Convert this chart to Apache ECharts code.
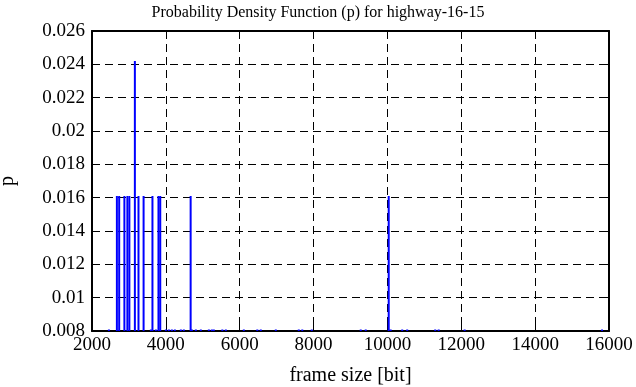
<!DOCTYPE html>
<html>
<head>
<meta charset="utf-8">
<script src="https://cdn.jsdelivr.net/npm/echarts@6/dist/echarts.min.js"></script>
<style>html,body{margin:0;padding:0;background:#fff}#c{width:636px;height:387px}</style>
</head>
<body>
<div id="c"></div>
<script>
// Frame sizes [bit] with non-zero probability density and their p values
const frameSizes = [2674, 2736, 2877, 2958, 3012, 3161, 3259, 3397, 3637, 3800, 3848, 4671, 10035];
const pValues    = [0.0161, 0.0161, 0.0161, 0.0161, 0.0161, 0.0242, 0.0161, 0.0161, 0.0161, 0.0161, 0.0161, 0.0161, 0.0161];
// Frame sizes whose p value is zero (drawn on the lower border)
const zeroSizes = [2458, 3594, 3729, 4000, 4081, 4162, 4244, 4406, 4487, 4704, 4812, 4947, 5164, 5245, 5299, 5529, 5624, 6111, 6476, 6571, 6977, 7599, 7694, 7951, 9277, 9412, 10088, 10400, 10535, 11293, 11388, 12091, 15812];
const zeroValues = zeroSizes.map(() => 0);
// Axes
const xTicks = [2000, 4000, 6000, 8000, 10000, 12000, 14000, 16000];
const yTicks = ['0.008', '0.01', '0.012', '0.014', '0.016', '0.018', '0.02', '0.022', '0.024', '0.026'];

const X_MIN = xTicks[0], X_MAX = xTicks[xTicks.length - 1];
const Y_MIN = 0.008, Y_MAX = 0.026;
const FONT = 'Liberation Serif';

const data = [];
frameSizes.forEach((x, i) => data.push([x, pValues[i]]));
zeroSizes.forEach((x, i) => data.push([x, zeroValues[i]]));

const chart = echarts.init(document.getElementById('c'), null, {renderer: 'canvas'});
const gridLine = {show: true, lineStyle: {color: '#000', width: 1, type: [8, 5]}};
const axisLineS = {show: true, lineStyle: {color: '#000', width: 2}};
const tickS = {show: true, inside: true, length: 6, lineStyle: {color: '#000', width: 1}};

chart.setOption({
  animation: false,
  backgroundColor: '#fff',
  title: {
    text: 'Probability Density Function (p) for highway-16-15',
    left: 'center', top: 0,
    textStyle: {fontFamily: FONT, fontSize: 16, fontWeight: 'normal', color: '#000'}
  },
  grid: {left: 92, right: 27, top: 31, bottom: 56, show: false, containLabel: false, outerBoundsMode: 'none'},
  xAxis: [{
    type: 'value', min: X_MIN, max: X_MAX, interval: 2000,
    name: 'frame size [bit]', nameLocation: 'middle', nameGap: 35,
    nameTextStyle: {fontFamily: FONT, fontSize: 20, color: '#000'},
    axisLine: axisLineS, axisTick: tickS, splitLine: gridLine,
    axisLabel: {fontFamily: FONT, fontSize: 19, color: '#000', margin: 5,
      formatter: (v) => String(xTicks[Math.round((v - X_MIN) / 2000)])}
  }, {
    type: 'value', position: 'top', min: X_MIN, max: X_MAX, interval: 2000,
    axisLine: axisLineS, axisTick: tickS, splitLine: {show: false}, axisLabel: {show: false}
  }],
  yAxis: [{
    type: 'value', min: Y_MIN, max: Y_MAX, interval: 0.002,
    name: 'p', nameLocation: 'middle', nameGap: 74, nameRotate: 90,
    nameTextStyle: {fontFamily: FONT, fontSize: 20, color: '#000'},
    axisLine: axisLineS, axisTick: tickS, splitLine: gridLine,
    axisLabel: {fontFamily: FONT, fontSize: 19, color: '#000', margin: 7,
      formatter: (v) => yTicks[Math.round((v - Y_MIN) / 0.002)]}
  }, {
    type: 'value', position: 'right', min: Y_MIN, max: Y_MAX, interval: 0.002,
    axisLine: axisLineS, axisTick: tickS, splitLine: {show: false}, axisLabel: {show: false}
  }],
  series: [{
    type: 'custom',
    xAxisIndex: 0, yAxisIndex: 0,
    z: 10,
    clip: true,
    data: data,
    renderItem: function (params, api) {
      const x = api.value(0), p = api.value(1);
      const base = api.coord([x, Y_MIN]);
      if (p > Y_MIN) {
        const top = api.coord([x, Math.min(p, Y_MAX)]);
        return {type: 'line', shape: {x1: base[0], y1: base[1], x2: top[0], y2: top[1]},
          style: {stroke: '#0000ff', lineWidth: 2}};
      }
      return {type: 'rect', shape: {x: base[0] - 1, y: base[1] - 1.5, width: 2, height: 2.5},
        style: {fill: '#0000ff'}};
    }
  }]
});
</script>
</body>
</html>
